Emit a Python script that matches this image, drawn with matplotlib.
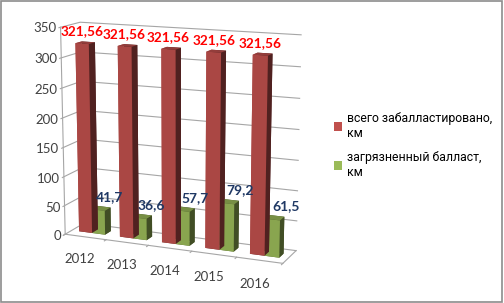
import matplotlib.pyplot as plt
from matplotlib.patches import Patch, Rectangle
import numpy as np

years = ['2012', '2013', '2014', '2015', '2016']
total_km = [321.56, 321.56, 321.56, 321.56, 321.56]
dirty_km = [41.7, 36.6, 57.7, 79.2, 61.5]
total_labels = ['321,56', '321,56', '321,56', '321,56', '321,56']
dirty_labels = ['41,7', '36,6', '57,7', '79,2', '61,5']
z_ticks = [0, 50, 100, 150, 200, 250, 300, 350]
series_names = ['всего забалластировано,\nкм', 'загрязненный балласт,\nкм']

RED = '#C0504D'
GREEN = '#9BBB59'
GRID = '#A6A6A6'

plt.rcParams['font.family'] = ['Lato', 'Roboto', 'DejaVu Sans']

fig = plt.figure(figsize=(5.04, 3.03), dpi=100)
fig.patches.append(Rectangle((0.002, 0.003), 0.995, 0.993, transform=fig.transFigure,
                             fill=False, edgecolor='#8C8C8C', linewidth=1.2))

ax = fig.add_axes([0.025, 0.008, 0.64, 1.04], projection='3d')
ax.set_proj_type('persp', focal_length=0.7)
ax.view_init(elev=13, azim=-67)
ax.set_axis_off()
ax.set_xlim(-0.5, 4.5)
ax.set_ylim(0, 1)
ax.set_zlim(0, 350)
ax.set_box_aspect((4.5, 0.8, 4.1), zoom=1.0)

n = len(years)
x = np.arange(n)
w = 0.32
d = 0.32
y0 = 0.35
xs = np.concatenate([x - w, x])
hs = np.concatenate([total_km, dirty_km])
cols = [RED] * n + [GREEN] * n
ax.bar3d(xs, np.full(2 * n, y0), np.zeros(2 * n), w, d, hs, color=cols, shade=True)

# walls grid
for z in z_ticks:
    ax.plot([-0.5, -0.5, 4.5], [-0.08, 1, 1], [z, z, z], color=GRID, lw=0.8)
    ax.text(-0.5, -0.2, z, str(z), ha='right', va='center', fontsize=9.5, color='#404040')
ax.plot([-0.5, -0.5], [0, 0], [0, 350], color=GRID, lw=0.8)
ax.plot([-0.5, 4.5, 4.5], [0, 0, 1], [0, 0, 0], color=GRID, lw=0.8)
for b in np.arange(-0.5, n, 1.0):
    ax.plot([b, b], [0, -0.1], [0, 0], color=GRID, lw=0.8)

for i in range(n):
    ax.text(i, -0.3, -22, years[i], ha='center', va='top', fontsize=9.5, color='#404040')
    ax.text(i - w / 2, y0, total_km[i] + 10, total_labels[i], ha='center', va='bottom',
            fontsize=9.8, fontweight='bold', color='#FF0000')
    ax.text(i + w / 2 + 0.28, y0, dirty_km[i] + 25, dirty_labels[i], ha='center', va='center',
            fontsize=10, fontweight='bold', color='#1F3864')

handles = [Patch(facecolor=RED), Patch(facecolor=GREEN)]
fig.legend(handles, series_names, loc='center left', bbox_to_anchor=(0.64, 0.52),
           frameon=False, prop={'family': 'Roboto', 'size': 8.8}, handlelength=0.7,
           handleheight=0.7, handletextpad=0.4, labelspacing=0.9)

fig.savefig('out.png', dpi=100)
